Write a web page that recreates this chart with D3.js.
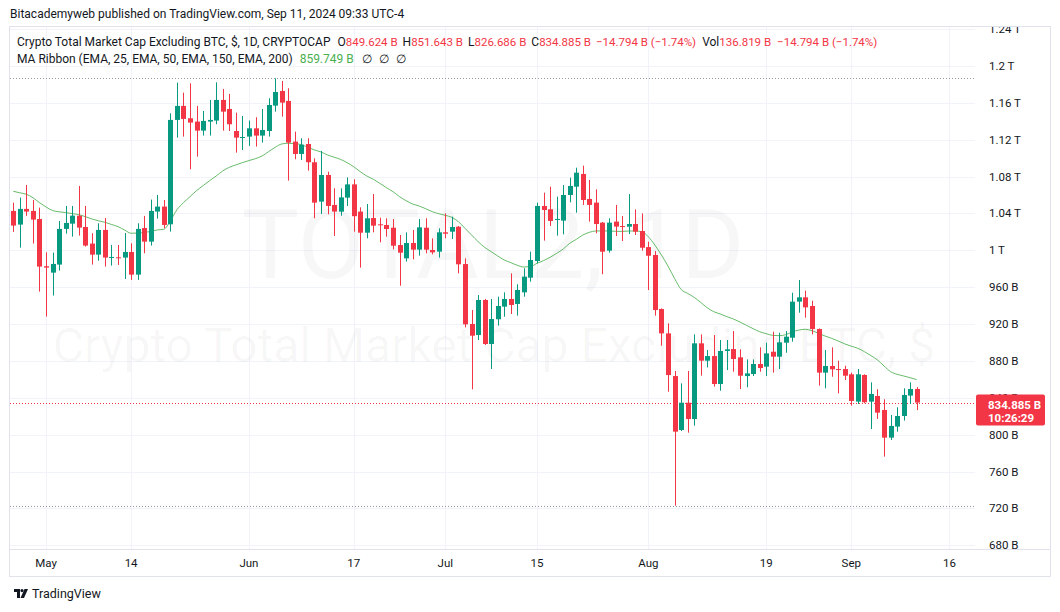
<!DOCTYPE html>
<html><head><meta charset="utf-8">
<script src="https://cdn.jsdelivr.net/npm/d3@7"></script>
<style>
body{margin:0;background:#fff;}
svg{display:block;font-family:Roboto,"Noto Sans",sans-serif;}
</style></head><body><svg id="c" width="1060" height="612"></svg>
<script>
// ---------- data (values in billions of USD) ----------
const startDate = "2024-04-26";
const opens = [1042.7,1027.9,1044.9,1042.7,1034.0,982.7,975.8,984.5,1023.2,1028.9,1037.6,1025.3,1007.3,995.3,1022.1,992.1,992.4,992.1,998.2,973.6,1024.2,1009.4,1042.0,1047.4,1028.2,1141.4,1156.6,1143.2,1139.6,1129.8,1139.6,1140.7,1163.1,1153.3,1129.4,1122.2,1123.3,1132.3,1124.4,1129.4,1156.9,1172.8,1162.0,1117.9,1104.5,1115.3,1095.5,1052.8,1081.7,1049.2,1041.9,1057.1,1071.5,1042.0,1019.1,1035.0,1028.2,1027.4,1024.5,1005.7,991.3,1007.9,1000.7,1024.5,1000.3,998.5,1019.5,1020.2,1025.6,985.1,920.1,908.1,946.1,898.4,925.2,938.9,947.2,941.8,954.4,970.3,988.4,1048.1,1044.5,1033.2,1032.2,1060.0,1069.0,1082.8,1055.7,1051.7,1030.0,999.6,1031.1,1026.3,1025.6,1028.5,1020.9,1003.5,994.9,936.3,909.9,863.6,805.1,834.7,817.0,899.1,880.3,885.3,855.0,890.8,892.9,883.9,863.6,865.8,876.7,873.8,890.0,884.6,899.8,905.2,944.3,949.0,939.6,914.6,867.3,874.5,871.2,871.2,865.5,835.9,864.8,835.9,842.0,826.8,796.8,808.8,820.3,842.4,849.624];
const highs = [1051.7,1057.1,1070.9,1054.6,1046.3,997.9,997.5,1031.8,1048.1,1048.1,1069.8,1048.1,1018.5,1029.3,1035.1,1005.8,1005.8,1018.8,1007.6,1029.3,1037.3,1055.0,1060.0,1054.6,1148.6,1181.9,1171.0,1181.1,1156.6,1151.1,1163.1,1182.2,1175.0,1169.6,1149.3,1145.7,1140.7,1144.3,1153.3,1164.9,1186.5,1183.7,1175.7,1128.7,1121.5,1121.5,1099.8,1107.8,1085.3,1067.3,1067.2,1079.1,1077.0,1046.6,1050.2,1061.0,1035.4,1034.7,1033.9,1016.6,1019.5,1022.0,1033.9,1034.7,1013.0,1023.8,1040.1,1036.5,1026.3,991.3,935.2,951.5,947.2,947.2,949.7,954.4,975.0,963.1,980.5,998.5,1051.7,1062.5,1069.0,1058.2,1070.8,1078.8,1089.6,1091.8,1076.3,1066.1,1030.7,1034.7,1049.2,1037.2,1061.0,1044.4,1040.0,1009.3,999.2,937.0,920.8,869.1,855.7,869.1,908.8,908.8,891.8,908.1,902.7,902.7,912.4,892.6,881.7,881.7,894.7,899.8,911.7,910.6,912.4,954.0,967.8,956.2,945.3,915.3,891.8,894.7,880.3,874.8,867.3,871.3,865.5,856.8,849.3,838.4,821.4,829.7,850.3,856.8,851.643];
const lows = [1019.9,1002.9,1037.3,1007.3,955.2,928.1,950.9,978.0,1018.1,1014.8,1015.9,1004.0,984.5,988.8,982.3,983.4,984.1,968.9,967.9,967.9,996.8,1005.1,1034.4,1023.9,1020.3,1122.2,1123.3,1087.9,1101.6,1124.4,1124.4,1136.7,1129.8,1129.4,1105.9,1108.8,1113.2,1112.5,1116.8,1123.3,1150.4,1145.0,1075.6,1098.7,1098.0,1086.4,1034.7,1039.4,1039.0,1015.6,1037.5,1048.0,1020.2,981.2,1013.0,1019.5,1008.6,1014.8,1001.0,961.6,987.7,990.2,994.2,996.7,995.6,992.0,1013.0,1012.2,975.0,916.4,849.2,902.7,897.3,871.3,918.3,928.0,930.9,929.1,949.7,966.0,985.9,1010.5,1026.4,1015.9,1017.3,1052.0,1040.8,1049.2,1031.1,1018.4,974.0,997.5,1015.5,1010.0,1017.6,1016.6,999.6,956.9,929.1,896.5,846.6,723.0,804.0,802.2,809.8,864.0,873.0,852.1,847.7,870.1,868.3,849.5,851.4,863.6,868.3,863.6,867.3,871.2,888.9,900.9,932.3,926.9,908.8,853.2,850.3,862.9,844.8,859.3,831.5,833.3,834.1,806.2,817.1,776.2,794.3,803.3,815.3,833.3,826.686];
const closes = [1026.8,1044.9,1042.0,1033.3,982.3,981.2,985.2,1023.2,1029.7,1037.6,1024.6,1005.1,995.3,1022.1,992.1,992.8,992.1,998.2,973.6,1023.2,1009.4,1042.7,1047.4,1027.5,1141.4,1156.6,1142.5,1138.5,1129.8,1140.3,1141.4,1163.1,1150.4,1136.7,1122.2,1122.9,1132.3,1124.4,1130.5,1157.6,1171.7,1160.2,1116.8,1104.5,1114.6,1095.5,1051.7,1081.7,1048.1,1042.0,1057.4,1071.5,1037.0,1019.1,1034.7,1026.7,1027.4,1023.1,1005.0,997.4,1007.9,1000.7,1024.9,1000.7,997.8,1019.5,1018.0,1025.3,984.8,919.7,907.4,946.1,898.4,925.5,939.6,947.2,940.7,957.0,971.4,989.5,1048.1,1043.7,1031.8,1034.0,1060.0,1069.8,1084.2,1054.6,1049.2,1028.5,998.5,1030.0,1025.7,1025.6,1028.5,1020.2,1002.8,994.1,935.2,909.9,864.7,803.3,834.7,817.0,899.1,880.3,885.3,855.0,890.8,892.6,882.1,864.0,866.5,876.7,872.3,888.2,884.6,900.2,906.3,944.3,949.0,938.1,914.6,867.3,874.5,870.9,870.5,864.0,836.6,865.5,835.2,844.2,823.9,796.8,809.5,820.3,843.1,849.6,834.885];
const ema25 = [1064.0,1062.4,1060.8,1057.0,1051.7,1047.0,1043.1,1041.8,1040.9,1039.8,1038.7,1036.5,1034.0,1032.0,1030.4,1028.0,1025.7,1022.0,1018.5,1018.7,1019.2,1020.6,1022.1,1022.8,1032.0,1044.0,1051.7,1058.2,1064.7,1070.2,1075.6,1080.6,1086.1,1090.0,1092.6,1095.1,1097.3,1099.4,1102.3,1107.0,1111.7,1115.3,1116.1,1115.7,1114.6,1111.7,1108.8,1106.7,1103.4,1101.0,1098.6,1095.0,1090.7,1085.3,1080.6,1077.0,1072.6,1067.9,1063.6,1058.2,1053.8,1050.2,1048.0,1045.1,1041.9,1039.7,1037.9,1035.7,1031.0,1023.8,1016.6,1009.4,1003.2,998.5,993.8,989.5,986.6,983.7,981.9,982.3,985.9,988.8,992.4,996.7,1001.4,1007.6,1011.9,1016.6,1019.5,1021.0,1021.0,1021.0,1020.6,1020.5,1020.9,1020.9,1020.2,1014.7,1005.7,994.9,982.9,969.6,957.6,953.3,949.0,943.5,937.7,933.4,930.9,928.0,925.5,922.2,918.6,915.0,911.7,909.6,907.7,907.4,908.5,911.4,913.5,914.3,912.8,909.9,907.0,904.5,901.6,898.5,896.0,893.7,890.1,885.8,881.1,874.6,868.4,865.5,863.7,861.8,859.749];
const priceTicks = [680,720,760,800,840,880,920,960,1000,1040,1080,1120,1160,1200,1240];
const priceLabels = ["680 B","720 B","760 B","800 B","840 B","880 B","920 B","960 B","1 T","1.04 T","1.08 T","1.12 T","1.16 T","1.2 T","1.24 T"];
const timeTicks = ["2024-05-01","2024-05-14","2024-06-01","2024-06-17","2024-07-01","2024-07-15","2024-08-01","2024-08-19","2024-09-01","2024-09-16"];
const timeLabels = ["May","14","Jun","17","Jul","15","Aug","19","Sep","16"];
const lastClose = 834.885;
const volumeText = "136.819 B";
const changeText = "\u221214.794 B (\u22121.74%)";
const countdownText = "10:26:29";

// ---------- setup ----------
const parse = d3.utcParse("%Y-%m-%d");
const t0 = parse(startDate);
const dates = closes.map((_, i) => d3.utcDay.offset(t0, i));
const data = dates.map((d, i) => ({d, o: opens[i], h: highs[i], l: lows[i], c: closes[i], e: ema25[i]}));

const svg = d3.select("#c");
const pane = {l: 10, r: 975, t: 26, b: 549};
const x = d3.scaleUtc().domain([Date.UTC(2024,3,25,12), Date.UTC(2024,8,19,21,36)]).range([pane.l, pane.r]);
const y = d3.scaleLinear().domain([680, 1240]).range([545.34, 29.02]);

const UP = "#089981", DN = "#f23645", TXT = "#131722", GRID = "#f0f3fa", BORDER = "#e0e3eb";

svg.append("defs").append("clipPath").attr("id","pc").append("rect")
  .attr("x", pane.l).attr("y", pane.t).attr("width", pane.r - pane.l).attr("height", pane.b - pane.t);
svg.select("defs").append("clipPath").attr("id","ac").append("rect")
  .attr("x", pane.r).attr("y", pane.t + 1).attr("width", 80).attr("height", pane.b - pane.t);

// header
svg.append("text").attr("x", 10).attr("y", 18).attr("font-size", 12).attr("fill", TXT)
  .text("Bitacademyweb published on TradingView.com, Sep 11, 2024 09:33 UTC-4");

// grid
const g = svg.append("g").attr("clip-path","url(#pc)");
g.selectAll("line.h").data(priceTicks).join("line")
  .attr("x1", pane.l).attr("x2", pane.r).attr("y1", d => Math.round(y(d)) + 0.5).attr("y2", d => Math.round(y(d)) + 0.5)
  .attr("stroke", GRID);
g.selectAll("line.v").data(timeTicks).join("line")
  .attr("x1", d => Math.round(x(parse(d))) + 0.5).attr("x2", d => Math.round(x(parse(d))) + 0.5)
  .attr("y1", pane.t).attr("y2", pane.b).attr("stroke", GRID);

// watermark
g.append("text").attr("x", 493).attr("y", 278).attr("text-anchor","middle").attr("font-size", 96)
  .attr("fill", TXT).attr("fill-opacity", 0.035).text("TOTAL2, 1D");
g.append("text").attr("x", 494).attr("y", 362).attr("text-anchor","middle").attr("font-size", 48)
  .attr("fill", TXT).attr("fill-opacity", 0.035).text("Crypto Total Market Cap Excluding BTC, $");

// high/low and last price lines
const maxH = d3.max(highs), minL = d3.min(lows);
[[maxH, "#9598a1"], [minL, "#9598a1"], [lastClose, DN]].forEach(([v, col]) => {
  g.append("line").attr("x1", pane.l).attr("x2", pane.r)
    .attr("y1", Math.round(y(v)) + 0.5).attr("y2", Math.round(y(v)) + 0.5)
    .attr("stroke", col).attr("stroke-dasharray", "1,2");
});

// EMA line
g.append("path").datum(data)
  .attr("d", d3.line().x(d => x(d.d)).y(d => y(d.e)).curve(d3.curveMonotoneX))
  .attr("fill","none").attr("stroke","#4caf50").attr("stroke-opacity",0.85).attr("stroke-width",1);

// candles
const cg = g.append("g");
const cs = cg.selectAll("g").data(data).join("g");
cs.append("line")
  .attr("x1", d => Math.round(x(d.d)) + 0.5).attr("x2", d => Math.round(x(d.d)) + 0.5)
  .attr("y1", d => y(d.h)).attr("y2", d => y(d.l))
  .attr("stroke", d => d.c >= d.o ? UP : DN).attr("stroke-width", 1);
cs.append("rect")
  .attr("x", d => Math.round(x(d.d)) - 2).attr("width", 5)
  .attr("y", d => y(Math.max(d.o, d.c)))
  .attr("height", d => Math.max(1, y(Math.min(d.o, d.c)) - y(Math.max(d.o, d.c))))
  .attr("fill", d => d.c >= d.o ? UP : DN);

// frame
svg.append("line").attr("x1", pane.l).attr("x2", 1050).attr("y1", pane.t + 0.5).attr("y2", pane.t + 0.5).attr("stroke", BORDER);
svg.append("line").attr("x1", pane.l - 0.5).attr("x2", pane.l - 0.5).attr("y1", pane.t).attr("y2", 577).attr("stroke", BORDER);
svg.append("line").attr("x1", 1050.5).attr("x2", 1050.5).attr("y1", pane.t).attr("y2", 577).attr("stroke", BORDER);
svg.append("line").attr("x1", pane.l).attr("x2", 1050).attr("y1", pane.b + 0.5).attr("y2", pane.b + 0.5).attr("stroke", BORDER);
svg.append("line").attr("x1", pane.l).attr("x2", 1050).attr("y1", 576.5).attr("y2", 576.5).attr("stroke", BORDER);

// price axis (the 840 B label sits behind the last-price badge, as in the original)
const ag = svg.append("g").attr("clip-path","url(#ac)");
ag.selectAll("text").data(priceTicks).join("text")
  .attr("x", 989).attr("y", d => y(d)).attr("dy","0.35em").attr("font-size", 11.5).attr("fill", TXT)
  .text((d, i) => priceLabels[i]);

// last price badge
const by = y(lastClose);
svg.append("rect").attr("x", 976).attr("y", by - 8).attr("width", 69).attr("height", 31).attr("rx", 2).attr("fill", DN);
svg.append("text").attr("x", 988).attr("y", by + 2).attr("dy","0.35em").attr("font-size", 11.5).attr("font-weight","bold")
  .attr("fill","#fff").text(d3.format(".3f")(lastClose) + " B");
svg.append("text").attr("x", 988).attr("y", by + 15).attr("dy","0.35em").attr("font-size", 11.5).attr("font-weight","bold")
  .attr("fill","#fff").text(countdownText);

// time axis
svg.append("g").selectAll("text").data(timeTicks).join("text")
  .attr("x", d => x(parse(d))).attr("y", 563).attr("dy","0.35em").attr("text-anchor","middle")
  .attr("font-size", 11.5).attr("fill", TXT).text((d, i) => timeLabels[i]);

// legend
const fmt = v => d3.format(".3f")(v) + " B";
const l1 = svg.append("text").attr("x", 17).attr("y", 46).attr("font-size", 12).attr("fill", TXT);
l1.append("tspan").text("Crypto Total Market Cap Excluding BTC, $, 1D, CRYPTOCAP");
const last = data[data.length - 1];
[["O", fmt(last.o)], ["H", fmt(last.h)], ["L", fmt(last.l)], ["C", fmt(last.c)]].forEach(([k, v], i) => {
  l1.append("tspan").attr("dx", i === 0 ? 7 : 5).text(k);
  l1.append("tspan").attr("fill", DN).attr("font-size", 11.5).text(v);
});
l1.append("tspan").attr("dx", 5).attr("fill", DN).attr("font-size", 11.5).text(changeText);
l1.append("tspan").attr("dx", 6).text("Vol");
l1.append("tspan").attr("fill", DN).attr("font-size", 11.5).text(volumeText);
l1.append("tspan").attr("dx", 6).attr("fill", DN).attr("font-size", 11.5).text(changeText);

const l2 = svg.append("text").attr("x", 17).attr("y", 63).attr("font-size", 12).attr("fill", TXT);
l2.append("tspan").text("MA Ribbon (EMA, 25, EMA, 50, EMA, 150, EMA, 200)");
l2.append("tspan").attr("dx", 7).attr("fill", "#4caf50").text(fmt(last.e));
l2.append("tspan").attr("dx", 8).text("\u2205");
l2.append("tspan").attr("dx", 7).text("\u2205");
l2.append("tspan").attr("dx", 7).text("\u2205");

// TradingView logo
const lg = svg.append("g").attr("transform","translate(14,589)").attr("fill", TXT);
lg.append("path").attr("d","M0 0H6V9H3V3H0Z");
lg.append("circle").attr("cx", 8).attr("cy", 1.6).attr("r", 1.6);
lg.append("path").attr("d","M10.5 0H14L10 9H6.5Z");
svg.append("text").attr("x", 32).attr("y", 598).attr("font-size", 12.5).attr("fill", TXT).text("TradingView");
</script></body></html>
